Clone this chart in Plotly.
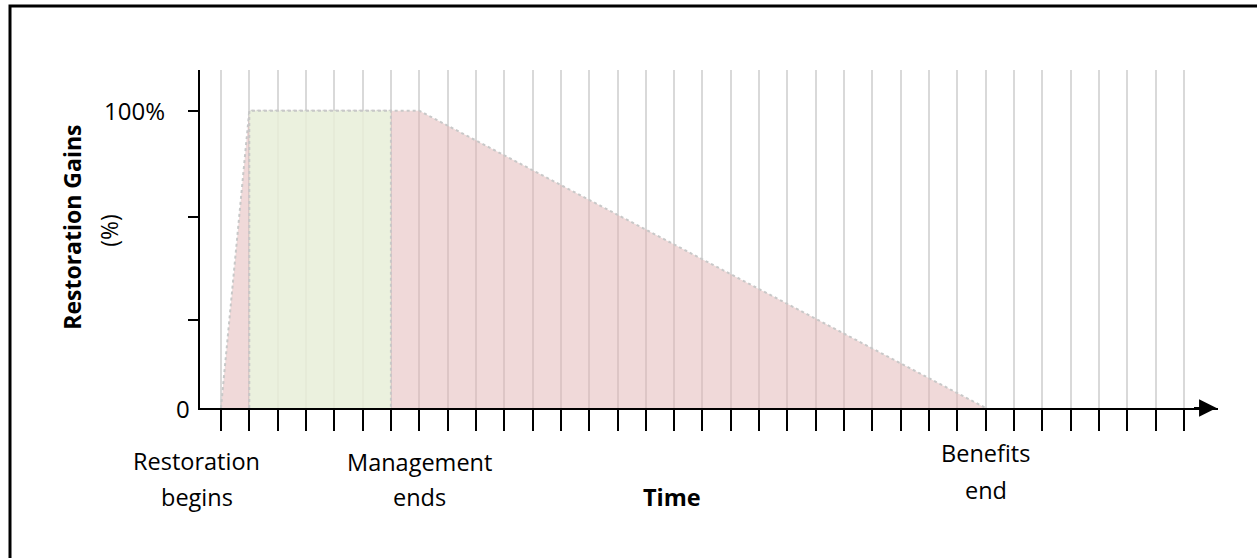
import plotly.graph_objects as go

# ---- data ----
time_steps = list(range(35))                 # x tick positions (time units)
restoration_x = [0, 1, 7, 27]                # restoration gains polygon
restoration_y = [0, 100, 100, 0]
management_x = [1, 1, 6, 6]                  # management period polygon
management_y = [0, 100, 100, 0]
y_tick_vals = [0, 100]
y_tick_text = ["0", "100%"]
y_minor_ticks = [29.6, 64.2, 100]
event_x = [0, 7, 27]
event_lines = [["Restoration", "begins"], ["Management", "ends"], ["Benefits", "end"]]
x_title = "Time"
y_title = ["Restoration Gains", "(%)"]

FONT = "Open Sans"
FS = 23.5
L, T, B = 200, 70, 149.5
W, H = 1257, 558
X_RANGE = [-0.74, 35.2]
Y_RANGE = [0, 113.7]

fig = go.Figure()
fig.add_trace(go.Scatter(
    x=restoration_x, y=restoration_y, fill="toself", mode="lines",
    fillcolor="rgba(226,180,180,0.5)",
    line=dict(color="#c8c8c8", width=2, dash="dot"), hoverinfo="skip",
))
fig.add_trace(go.Scatter(
    x=management_x, y=management_y, fill="toself", mode="lines",
    fillcolor="rgba(233,250,223,0.72)",
    line=dict(color="#c8c8c8", width=2, dash="dot"), hoverinfo="skip",
))

plot_w = W - L - 39
plot_h = H - T - B

ann = []
# y tick labels
shifts = {"0": -8, "100%": -33}
for v, t in zip(y_tick_vals, y_tick_text):
    ann.append(dict(x=0, xref="paper", y=v, yref="y", text=t, showarrow=False,
                    xanchor="right", yanchor="middle", xshift=shifts[t],
                    font=dict(family=FONT, size=24, color="black")))
# y title
ann.append(dict(x=0, xref="paper", xshift=-128, y=(408.5 - 228) / plot_h, yref="paper",
                text="<b>" + y_title[0] + "</b>", textangle=-90, showarrow=False,
                xanchor="center", yanchor="middle",
                font=dict(family=FONT, size=23, color="black")))
ann.append(dict(x=0, xref="paper", xshift=-91, y=(408.5 - 231) / plot_h, yref="paper",
                text=y_title[1], textangle=-90, showarrow=False,
                xanchor="center", yanchor="middle",
                font=dict(family=FONT, size=23, color="black")))
# event labels
x_shifts = [-24, 0, 0]
line_shifts = [[-52.5, -88.5], [-53.5, -88.5], [-44.5, -81.5]]
for ex, lines, sh, xs in zip(event_x, event_lines, line_shifts, x_shifts):
    for txt, s in zip(lines, sh):
        ann.append(dict(x=ex, xref="x", y=0, yref="paper", yshift=s, xshift=xs,
                        text=txt, showarrow=False, xanchor="center", yanchor="middle",
                        font=dict(family=FONT, size=FS, color="black")))
# x title
ann.append(dict(x=15.92, xref="x", y=0, yref="paper", yshift=-88.5,
                text="<b>" + x_title + "</b>", showarrow=False,
                xanchor="center", yanchor="middle",
                font=dict(family=FONT, size=FS, color="black")))
# arrow head on x axis
ann.append(dict(x=X_RANGE[1] - 0.05, y=0, xref="x", yref="y", ax=34.3, ay=0,
                axref="x", ayref="y", text="", showarrow=True, arrowhead=2,
                arrowsize=1.75, arrowwidth=2, arrowcolor="black"))

fig.update_layout(
    width=W, height=H,
    margin=dict(l=L, r=39, t=T, b=B),
    paper_bgcolor="white", plot_bgcolor="white",
    showlegend=False,
    annotations=ann,
    shapes=[dict(type="rect", xref="paper", yref="paper",
                 x0=(10 - L) / plot_w, x1=(1265 - L) / plot_w,
                 y0=(408.5 - 570) / plot_h, y1=(408.5 - 6) / plot_h,
                 line=dict(color="black", width=3), fillcolor="rgba(0,0,0,0)",
                 layer="above")],
    xaxis=dict(range=X_RANGE, tickvals=time_steps, showticklabels=False,
               ticks="outside", ticklen=21, tickwidth=2, tickcolor="black",
               showgrid=True, gridcolor="#d9d9d9", gridwidth=2,
               showline=True, linecolor="black", linewidth=2,
               zeroline=False, fixedrange=True),
    yaxis=dict(range=Y_RANGE, tickvals=y_minor_ticks, showticklabels=False,
               ticks="outside", ticklen=10, tickwidth=2, tickcolor="black",
               showgrid=False, showline=True, linecolor="black", linewidth=2,
               zeroline=False, fixedrange=True),
)

fig.write_html("out.html", config={"displayModeBar": False},
               post_script="document.body.style.margin='0';document.body.style.overflow='hidden';")
